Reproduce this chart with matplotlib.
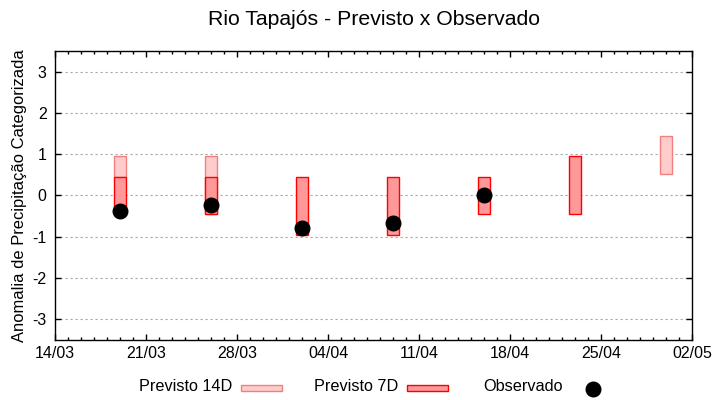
import matplotlib
matplotlib.use("Agg")
import matplotlib.pyplot as plt
import matplotlib.dates as mdates
from matplotlib.patches import Rectangle
from matplotlib.lines import Line2D
from datetime import datetime, timedelta

plt.rcParams['font.family'] = ['Liberation Sans', 'DejaVu Sans']

title = "Rio Tapajós - Previsto x Observado"
ylabel = "Anomalia de Precipitação Categorizada"

# Previsto 14D (bottom, top)
d14_dates = ["2024-03-19", "2024-03-26", "2024-04-30"]
d14_low = [0.44, -0.44, 0.51]
d14_high = [0.95, 0.95, 1.44]

# Previsto 7D (bottom, top)
d7_dates = ["2024-03-19", "2024-03-26", "2024-04-02", "2024-04-09", "2024-04-16", "2024-04-23"]
d7_low = [-0.44, -0.44, -0.95, -0.95, -0.44, -0.44]
d7_high = [0.44, 0.44, 0.44, 0.44, 0.44, 0.95]

# Observado
obs_dates = ["2024-03-19", "2024-03-26", "2024-04-02", "2024-04-09", "2024-04-16"]
obs_vals = [-0.38, -0.24, -0.80, -0.66, 0.00]

xtick_dates = ["2024-03-14", "2024-03-21", "2024-03-28", "2024-04-04", "2024-04-11",
               "2024-04-18", "2024-04-25", "2024-05-02"]
yticks = [-3, -2, -1, 0, 1, 2, 3]

def D(s):
    return datetime.strptime(s, "%Y-%m-%d")

W, H = 720, 400
fig = plt.figure(figsize=(7.2, 4.0), dpi=100)
ax = fig.add_axes([55 / W, (H - 339.5) / H, (692 - 55) / W, (339.5 - 51.3) / H])

c14_face, c14_edge = "#ffcccc", "#f08080"
c7_face, c7_edge = "#ff9999", "#ff0000"
bw = 0.9

x14 = [mdates.date2num(D(s)) for s in d14_dates]
ax.bar(x14, [h - l for l, h in zip(d14_low, d14_high)], bottom=d14_low, width=bw,
       color=c14_face, edgecolor=c14_edge, linewidth=1.0, zorder=2)
x7 = [mdates.date2num(D(s)) for s in d7_dates]
ax.bar(x7, [h - l for l, h in zip(d7_low, d7_high)], bottom=d7_low, width=bw,
       color=c7_face, edgecolor=c7_edge, linewidth=1.0, zorder=3)
xo = [mdates.date2num(D(s)) for s in obs_dates]
ax.plot(xo, obs_vals, 'o', color='black', markersize=10.5, zorder=4)

ax.set_xlim(mdates.date2num(D(xtick_dates[0])), mdates.date2num(D(xtick_dates[-1])))
ax.set_ylim(-3.5, 3.5)
ax.set_xticks([mdates.date2num(D(s)) for s in xtick_dates])
ax.set_xticklabels([D(s).strftime("%d/%m") for s in xtick_dates])
ax.xaxis.set_minor_locator(mdates.DayLocator())
ax.set_yticks(yticks)
ax.set_yticklabels([str(v) for v in yticks])

ax.grid(axis='y', color='#a8a8a8', linestyle=(0, (2, 2.5)), linewidth=0.8, zorder=0)
ax.set_axisbelow(True)
ax.tick_params(which='major', direction='in', length=4, width=1, top=True, right=True,
               labelsize=11.5, colors='black', pad=6)
ax.tick_params(axis='x', which='major', pad=5)
ax.tick_params(which='minor', direction='in', length=2, width=1, top=True, bottom=True)
ax.tick_params(axis='y', which='minor', left=False, right=False)
for sp in ax.spines.values():
    sp.set_linewidth(1.0)
    sp.set_color('black')

fig.text(373.5 / W, 1 - 19.5 / H, title, ha='center', va='center', fontsize=15.3)
fig.text(20 / W, 1 - 195.5 / H, ylabel, ha='center', va='center', rotation=90, fontsize=11.9)

# Legend (manual, figure pixel coordinates)
ly = 1 - 386.5 / H
fig.text(232 / W, ly, "Previsto 14D", ha='right', va='center', fontsize=11.7)
fig.patches.append(Rectangle((241 / W, 1 - 391.3 / H), 40.7 / W, 6.3 / H,
                             transform=fig.transFigure, facecolor=c14_face,
                             edgecolor=c14_edge, linewidth=1.0))
fig.text(398 / W, ly, "Previsto 7D", ha='right', va='center', fontsize=11.7)
fig.patches.append(Rectangle((407.3 / W, 1 - 391.3 / H), 40.4 / W, 6.3 / H,
                             transform=fig.transFigure, facecolor=c7_face,
                             edgecolor=c7_edge, linewidth=1.0))
fig.text(563 / W, ly, "Observado", ha='right', va='center', fontsize=11.7)
fig.lines.append(Line2D([593.3 / W], [1 - 388.7 / H], transform=fig.transFigure,
                        marker='o', color='black', markersize=10.5, linestyle='none'))

fig.savefig("out.png", dpi=100)
